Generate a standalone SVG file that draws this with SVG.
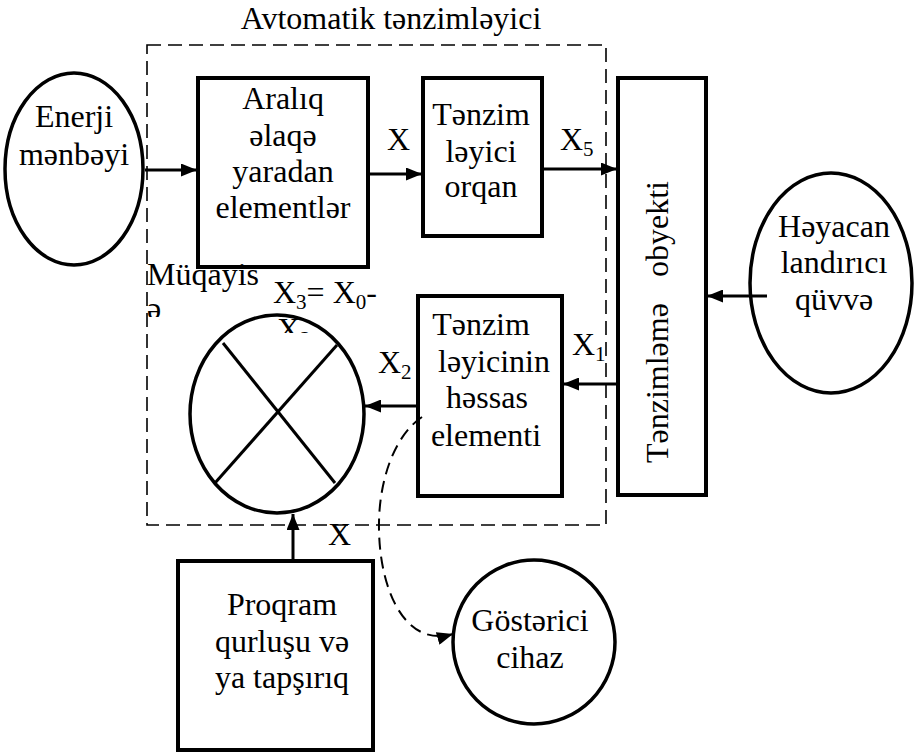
<svg xmlns="http://www.w3.org/2000/svg" width="918" height="753" viewBox="0 0 918 753" font-family="'Liberation Serif', 'Times New Roman', 'DejaVu Serif', serif">
<style>
text{font-family:'Liberation Serif','Times New Roman','DejaVu Serif',serif;font-size:32px;fill:#000}
.c{text-anchor:middle}
.sub{font-size:21px}
.box{fill:#fff;stroke:#000;stroke-width:4}
.ell{fill:none;stroke:#000;stroke-width:3.5}
.ln{fill:none;stroke:#000;stroke-width:3}
.dash{fill:none;stroke:#000;stroke-width:1.6;stroke-dasharray:14 7}
.dcurve{fill:none;stroke:#000;stroke-width:2;stroke-dasharray:12 7}
</style>
<defs>
<marker id="ah" markerUnits="userSpaceOnUse" markerWidth="17" markerHeight="13" refX="16" refY="6.5" orient="auto">
<path d="M0,0 L16,6.5 L0,13 z" fill="#000"/>
</marker>
<clipPath id="clipA"><rect x="140" y="255" width="130" height="62"/></clipPath>
<clipPath id="clipB"><rect x="265" y="270" width="130" height="63"/></clipPath>
</defs>
<rect width="918" height="753" fill="#fff"/>

<g id="regulator">
<rect class="dash" x="147" y="45" width="459" height="480"/>
<text class="c" x="391" y="29" style="font-size:32px">Avtomatik tənzimləyici</text>
</g>

<g id="energy">
<ellipse class="ell" cx="74" cy="169" rx="69" ry="96"/>
<text class="c" x="74" y="127">Enerji</text>
<text class="c" x="74" y="165">mənbəyi</text>
</g>

<g id="intermediate">
<rect class="box" x="198" y="78" width="170" height="189"/>
<text class="c" x="283" y="109">Aralıq</text>
<text class="c" x="283" y="146">əlaqə</text>
<text class="c" x="283" y="182">yaradan</text>
<text class="c" x="283" y="218">elementlər</text>
</g>

<g id="organ">
<rect class="box" x="423" y="78" width="119" height="158"/>
<text class="c" x="481" y="125">Tənzim</text>
<text class="c" x="481" y="162">ləyici</text>
<text class="c" x="481" y="197">orqan</text>
</g>

<g id="object">
<rect class="box" x="618" y="78" width="88" height="417"/>
<text transform="translate(668,463) rotate(-90)"><tspan x="0" y="0">Tənzimləmə</tspan><tspan x="186" y="0">obyekti</tspan></text>
</g>

<g id="disturbance">
<ellipse class="ell" cx="831" cy="283" rx="81" ry="110"/>
<text class="c" x="834" y="237">Həyacan</text>
<text class="c" x="834" y="273">landırıcı</text>
<text class="c" x="834" y="310">qüvvə</text>
</g>

<g id="sensor">
<rect class="box" x="418" y="296" width="144" height="200"/>
<text class="c" x="481" y="335">Tənzim</text>
<text class="c" x="494" y="372">ləyicinin</text>
<text class="c" x="487" y="408">həssas</text>
<text class="c" x="486" y="446">elementi</text>
</g>

<g id="comparator">
<ellipse class="ell" cx="277" cy="414" rx="87" ry="99"/>
<line class="ln" x1="223" y1="343" x2="335" y2="483" stroke-width="3.5"/>
<line class="ln" x1="337" y1="345" x2="215" y2="483" stroke-width="3.5"/>
<g clip-path="url(#clipA)">
<text x="147" y="285">Müqayis</text>
<text x="147" y="319">ə</text>
</g>
<g clip-path="url(#clipB)">
<text x="273" y="303">X<tspan class="sub" dy="6">3</tspan><tspan dy="-6">= X</tspan><tspan class="sub" dy="6">0</tspan><tspan dy="-6">-</tspan></text>
<text x="277" y="340">X<tspan class="sub" dy="6">2</tspan></text>
</g>
</g>

<g id="program">
<rect class="box" x="178" y="561" width="195" height="189"/>
<text class="c" x="282" y="615">Proqram</text>
<text class="c" x="282" y="652">qurluşu və</text>
<text class="c" x="282" y="688">ya tapşırıq</text>
</g>

<g id="indicator">
<ellipse class="ell" cx="534" cy="642" rx="81" ry="82"/>
<text class="c" x="530" y="631">Göstərici</text>
<text class="c" x="530" y="668">cihaz</text>
</g>

<g id="connectors">
<path class="ln" d="M145,170 H197" stroke-width="3.5" marker-end="url(#ah)"/>
<path class="ln" d="M368,174 H422" stroke-width="2.5" marker-end="url(#ah)"/>
<path class="ln" d="M542,169 H617" stroke-width="2.5" marker-end="url(#ah)"/>
<path class="ln" d="M767,296 H707" marker-end="url(#ah)"/>
<path class="ln" d="M618,384 H563" marker-end="url(#ah)"/>
<path class="ln" d="M418,406 H365" marker-end="url(#ah)"/>
<path class="ln" d="M293,561 V514" stroke-width="3.5" marker-end="url(#ah)"/>
<path class="dcurve" d="M422,417 C395,435 378,480 379,530 C380,590 405,648 453,634" marker-end="url(#ah)"/>
<text x="387" y="150">X</text>
<text x="560" y="150">X<tspan class="sub" dy="6">5</tspan></text>
<text x="572" y="355">X<tspan class="sub" dy="6">1</tspan></text>
<text x="378" y="373">X<tspan class="sub" dy="6">2</tspan></text>
<text x="328" y="545">X</text>
</g>
</svg>
